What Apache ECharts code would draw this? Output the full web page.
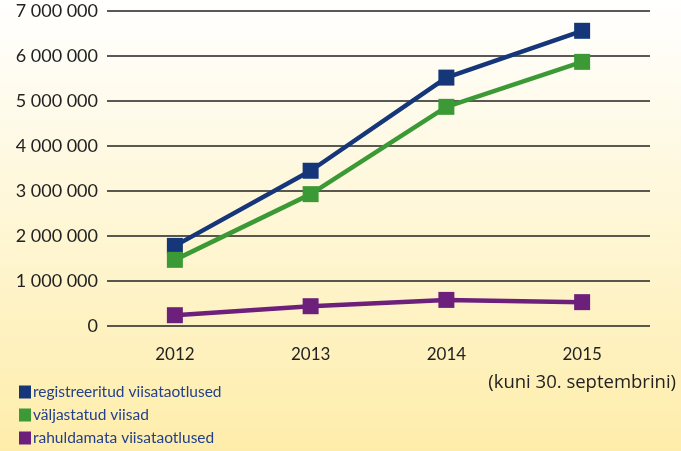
<!DOCTYPE html>
<html><head><meta charset="utf-8">
<script src="https://cdn.jsdelivr.net/npm/echarts@6/dist/echarts.min.js"></script>
<style>html,body{margin:0;padding:0;}#c{width:681px;height:451px;}</style>
</head><body><div id="c"></div>
<script>
const categories = ['2012', '2013', '2014', '2015\n(kuni 30. septembrini)'];
const registered = [1780000, 3450000, 5520000, 6560000];
const issued = [1470000, 2930000, 4870000, 5870000];
const refused = [240000, 440000, 580000, 530000];
const seriesNames = ['registreeritud viisataotlused', 'väljastatud viisad', 'rahuldamata viisataotlused'];
const colors = ['#15377A', '#3B9A35', '#6D207B'];

const chart = echarts.init(document.getElementById('c'));
const fmt = v => String(v).replace(/\B(?=(\d{3})+(?!\d))/g, ' ');
const mk = (name, data, color) => ({
  name, type: 'line', data, color,
  symbol: 'rect', symbolSize: 16,
  lineStyle: { width: 4.5, color },
  itemStyle: { color },
  animation: false
});
chart.setOption({
  backgroundColor: {
    type: 'linear', x: 0, y: 0, x2: 0, y2: 1,
    colorStops: [{ offset: 0, color: '#FFFFFF' }, { offset: 1, color: '#FEEDAA' }]
  },
  grid: { left: 107, right: 31, top: 11, bottom: 125, containLabel: false },
  legend: {
    orient: 'vertical', left: 14, top: 379, height: 100,
    itemWidth: 12, itemHeight: 13, itemGap: 7,
    icon: 'rect',
    textStyle: { color: '#22408C', fontSize: 15.5, fontFamily: 'Lato', padding: [0, 0, 0, -3] },
    data: seriesNames
  },
  xAxis: {
    type: 'category', data: categories, boundaryGap: true,
    axisLine: { show: false }, axisTick: { show: false },
    axisLabel: {
      interval: 0, margin: 14,
      formatter: v => v.split('\n').map((s, i) => (i === 0 ? '{a|' : '{b|') + s + '}').join('\n'),
      rich: {
        a: { color: '#222', fontSize: 17, fontFamily: 'Lato', lineHeight: 29 },
        b: { color: '#222', fontSize: 18.5, fontFamily: 'Open Sans', lineHeight: 27 }
      }
    }
  },
  yAxis: {
    type: 'value', min: 0, max: 7000000, interval: 1000000,
    axisLine: { show: false }, axisTick: { show: false },
    splitLine: { lineStyle: { color: '#222', width: 1.5 } },
    axisLabel: { color: '#222', fontSize: 18, fontFamily: 'Lato', margin: 9, formatter: fmt }
  },
  series: [
    mk(seriesNames[0], registered, colors[0]),
    mk(seriesNames[1], issued, colors[1]),
    mk(seriesNames[2], refused, colors[2])
  ]
});
</script></body></html>
